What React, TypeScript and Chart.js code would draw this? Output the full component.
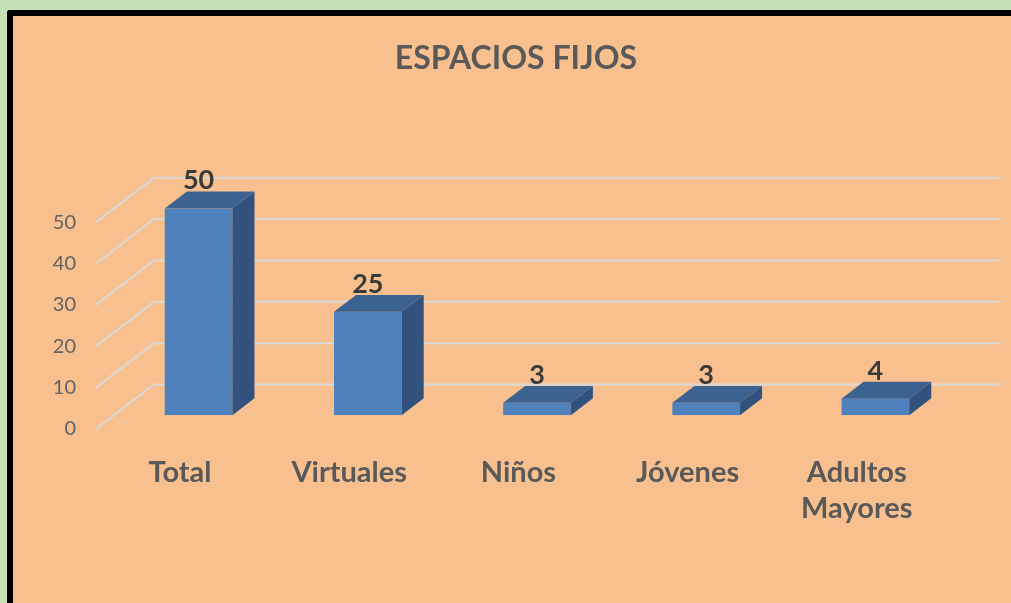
import React, { useEffect, useRef } from "react";
import { Chart, registerables } from "chart.js";

Chart.register(...registerables);

const titleText = "ESPACIOS FIJOS";
const categories: (string | string[])[] = ["Total", "Virtuales", "Niños", "Jóvenes", ["Adultos", "Mayores"]];
const values = [50, 25, 3, 3, 4];
const yMin = 0;
const yMax = 50;
const yStep = 10;

const DX = 58;
const DY = 44.5;
const BAR_FRONT = 0.31;
const BAR_BACK = 0.69;

const threeD = {
  id: "threeD",
  beforeDatasetsDraw(chart: any) {
    const { ctx, chartArea, scales } = chart;
    const y = scales.y;
    ctx.save();
    ctx.strokeStyle = "#d9d9d9";
    ctx.lineWidth = 2;
    y.ticks.forEach((t: any) => {
      const py = y.getPixelForValue(t.value);
      const fx = chartArea.left - BAR_FRONT * DX;
      const fy = py + BAR_FRONT * DY;
      const bx = chartArea.left + (1 - BAR_FRONT) * DX;
      const by = py - (1 - BAR_FRONT) * DY;
      const ex = chartArea.right + (1 - BAR_FRONT) * DX;
      ctx.beginPath();
      ctx.moveTo(fx, fy);
      ctx.lineTo(bx, by);
      ctx.lineTo(ex, by);
      ctx.stroke();
    });
    ctx.restore();
  },
  afterDatasetsDraw(chart: any) {
    const { ctx } = chart;
    const meta = chart.getDatasetMeta(0);
    const dx = (BAR_BACK - BAR_FRONT) * DX;
    const dy = (BAR_BACK - BAR_FRONT) * DY;
    ctx.save();
    meta.data.forEach((bar: any, i: number) => {
      const { x, y, base, width } = bar.getProps(["x", "y", "base", "width"], true);
      const x1 = x - width / 2;
      const x2 = x + width / 2;
      ctx.fillStyle = "#3c6291";
      ctx.beginPath();
      ctx.moveTo(x1, y);
      ctx.lineTo(x2, y);
      ctx.lineTo(x2 + dx, y - dy);
      ctx.lineTo(x1 + dx, y - dy);
      ctx.closePath();
      ctx.fill();
      ctx.fillStyle = "#32527d";
      ctx.beginPath();
      ctx.moveTo(x2, y);
      ctx.lineTo(x2 + dx, y - dy);
      ctx.lineTo(x2 + dx, base - dy);
      ctx.lineTo(x2, base);
      ctx.closePath();
      ctx.fill();
      ctx.fillStyle = "#3a3a3a";
      ctx.font = "bold 27px Lato";
      ctx.textAlign = "center";
      ctx.textBaseline = "alphabetic";
      ctx.fillText(String(chart.data.datasets[0].data[i]), x, y - dy - 2);
    });
    ctx.restore();
  },
};

export default function App() {
  const ref = useRef<HTMLCanvasElement>(null);
  useEffect(() => {
    if (!ref.current) return;
    const chart = new Chart(ref.current, {
      type: "bar",
      data: {
        labels: categories as any,
        datasets: [
          {
            data: values,
            backgroundColor: "#4f81bd",
            categoryPercentage: 1,
            barPercentage: 0.4,
            yAxisID: "y",
          },
        ],
      },
      options: {
        animation: false,
        responsive: false,
        layout: { padding: { left: 21, right: 0, top: 0, bottom: 0 } },
        plugins: {
          legend: { display: false },
          tooltip: { enabled: false },
          title: {
            display: true,
            text: titleText,
            color: "#595959",
            font: { family: "Lato", size: 32, weight: "bold", lineHeight: 1.2 },
            padding: { top: 39, bottom: 131 },
          },
        },
        scales: {
          x: {
            grid: { display: false, drawTicks: false },
            border: { display: false },
            ticks: {
              color: "#595959",
              font: { family: "Lato", size: 29, weight: "bold", lineHeight: 1.25 },
              padding: 39,
              labelOffset: -18.6,
              autoSkip: false,
              maxRotation: 0,
            },
            afterFit: (s: any) => {
              s.height = 187.8;
            },
          },
          y: {
            min: yMin,
            max: yMax,
            position: "left",
            grid: { display: false, drawTicks: false },
            border: { display: false },
            ticks: {
              stepSize: yStep,
              color: "#626262",
              font: { family: "Lato", size: 20 },
              padding: 38,
              labelOffset: 13.8,
            },
            afterFit: (s: any) => {
              s.width = 93;
            },
          },
          y2: {
            position: "right",
            min: yMin,
            max: yMax,
            grid: { display: false, drawTicks: false },
            border: { display: false },
            ticks: { display: false },
            afterFit: (s: any) => {
              s.width = 51;
            },
          },
        },
      },
      plugins: [threeD],
    });
    return () => chart.destroy();
  }, []);
  return (
    <div style={{ position: "fixed", left: 0, top: 0, width: 1011, height: 603, background: "#c5e1b5", overflow: "hidden" }}>
      <div
        style={{
          position: "absolute",
          left: 7,
          top: 10,
          right: -20,
          bottom: -20,
          background: "#f9c08f",
          borderLeft: "6px solid #000",
          borderTop: "6px solid #000",
          borderTopLeftRadius: 3,
        }}
      />
      <canvas ref={ref} width={1011} height={603} style={{ position: "absolute", left: 0, top: 0 }} />
    </div>
  );
}
